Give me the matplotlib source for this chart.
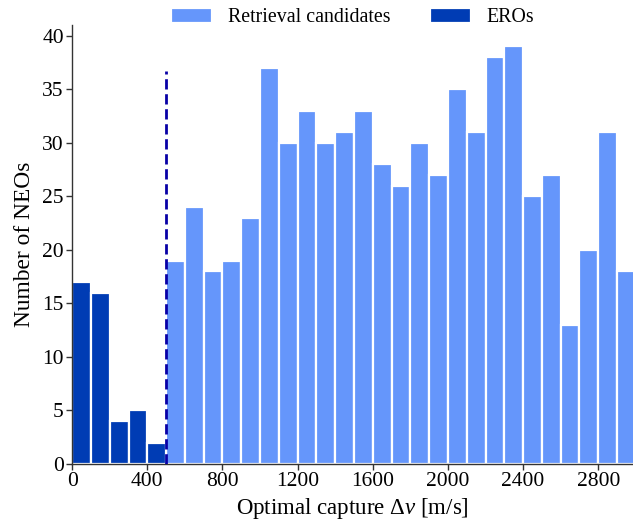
import matplotlib
matplotlib.use("Agg")
import matplotlib.pyplot as plt
import numpy as np

# Histogram bins (m/s) and counts per 100 m/s bin
ero_edges = [0, 100, 200, 300, 400]
ero_counts = [17, 16, 4, 5, 2]

cand_edges = [500, 600, 700, 800, 900, 1000, 1100, 1200, 1300, 1400,
              1500, 1600, 1700, 1800, 1900, 2000, 2100, 2200, 2300, 2400,
              2500, 2600, 2700, 2800, 2900]
cand_counts = [19, 24, 18, 19, 23, 37, 30, 33, 30, 31,
               33, 28, 26, 30, 27, 35, 31, 38, 39, 25,
               27, 13, 20, 31, 18]

bin_width = 100
threshold = 500
threshold_top = 36.7

plt.rcParams['font.family'] = ['Liberation Serif', 'DejaVu Serif']
plt.rcParams['mathtext.fontset'] = 'custom'
plt.rcParams['mathtext.rm'] = 'Liberation Serif'
plt.rcParams['mathtext.it'] = 'Liberation Serif:italic'

fig = plt.figure(figsize=(6.33, 5.24), dpi=100)
ax = fig.add_axes([0.114, 0.1145, 0.886, 0.838])

c_light = '#6596fb'
c_dark = '#003cb4'

ax.bar(cand_edges, cand_counts, width=bin_width, align='edge',
       color=c_light, edgecolor='white', linewidth=1.6,
       label='Retrieval candidates')
ax.bar(ero_edges, ero_counts, width=bin_width, align='edge',
       color=c_dark, edgecolor='white', linewidth=1.6, label='EROs')

ax.plot([threshold, threshold], [0, threshold_top], color='#0800a6',
        linestyle=(0, (3.7, 1.7)), linewidth=2.0, zorder=5)

ax.set_xlim(0, 2985)
ax.set_ylim(0, 41)
ax.set_xticks(np.arange(0, 2801, 400))
ax.set_yticks(np.arange(0, 41, 5))

for s in ['top', 'right']:
    ax.spines[s].set_visible(False)
for s in ['left', 'bottom']:
    ax.spines[s].set_color('#333333')
    ax.spines[s].set_linewidth(1.0)

ax.tick_params(axis='both', labelsize=15.5, length=4, width=1.0,
               color='#333333', pad=2)

ax.set_xlabel(r'Optimal capture $\Delta v$ [m/s]', fontsize=16.5, labelpad=3)
ax.set_ylabel('Number of NEOs', fontsize=16.8, labelpad=5)

ax.legend(loc='center', bbox_to_anchor=(0.5, 1.016), ncol=2, frameon=False,
          fontsize=14.3, handlelength=2.06, handleheight=0.75,
          columnspacing=2.0, handletextpad=0.8)

fig.savefig('out.png', dpi=100)
